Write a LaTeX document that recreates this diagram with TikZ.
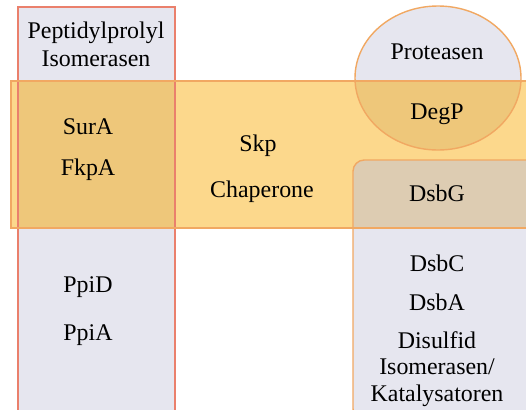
\documentclass[tikz,border=0pt]{standalone}
\usepackage{fontspec}
\setmainfont{Liberation Serif}
\usepackage{tikz}
\usetikzlibrary{positioning, calc}
\usepackage{xcolor}
\definecolor{lav}{RGB}{230,230,239}
\definecolor{orng}{RGB}{252,216,140}
\definecolor{orngdark}{RGB}{238,199,122}
\definecolor{tanbox}{RGB}{221,204,178}
\definecolor{redline}{RGB}{234,128,108}
\definecolor{orline}{RGB}{241,168,98}

\begin{document}
\begin{tikzpicture}[x=0.025cm, y=-0.025cm,
    lbl/.style={font=\fontsize{17}{20}\selectfont, align=center, inner sep=0pt}]
  \useasboundingbox (0,0) rectangle (526,409);
  % base areas
  \fill[lav] (18,7) rectangle (175,420);
  \fill[lav] (438,78) ellipse (83 and 72);
  \fill[orng] (11,81) rectangle (540,228);
  \begin{scope}
    \clip (11,81) rectangle (540,228);
    \fill[orngdark] (18,7) rectangle (175,420);
    \fill[orngdark] (438,78) ellipse (83 and 72);
  \end{scope}
  \fill[lav, rounded corners=8] (353,160) rectangle (540,420);
  \begin{scope}
    \clip (11,81) rectangle (540,228);
    \fill[tanbox, rounded corners=8] (353,160) rectangle (540,420);
  \end{scope}
  % borders
  \draw[redline, line width=1.2pt] (18,7) rectangle (175,420);
  \draw[orline, line width=1pt] (11,81) rectangle (540,228);
  \draw[orline, line width=1pt] (438,78) ellipse (83 and 72);
  \draw[orline, line width=1pt, rounded corners=8] (353,160) rectangle (540,420);
  % texts
  \node[lbl] (ppi) at (96,44) {Peptidylprolyl\\Isomerasen};
  \node[lbl] (sura) at (88,127) {SurA};
  \node[lbl] (fkpa) at (88,170) {FkpA};
  \node[lbl] (ppid) at (88,287) {PpiD};
  \node[lbl] (ppia) at (88,335) {PpiA};
  \node[lbl] (skp) at (258,146) {Skp};
  \node[lbl] (chap) at (262,192) {Chaperone};
  \node[lbl] (prot) at (437,52) {Proteasen};
  \node[lbl] (degp) at (437,114) {DegP};
  \node[lbl] (dsbg) at (437,193) {DsbG};
  \node[lbl] (dsbc) at (437,263) {DsbC};
  \node[lbl] (dsba) at (437,302) {DsbA};
  \node[lbl, font=\fontsize{17}{19}\selectfont] (dsi) at (437,369) {Disulfid\\Isomerasen/\\Katalysatoren};
\end{tikzpicture}
\end{document}
